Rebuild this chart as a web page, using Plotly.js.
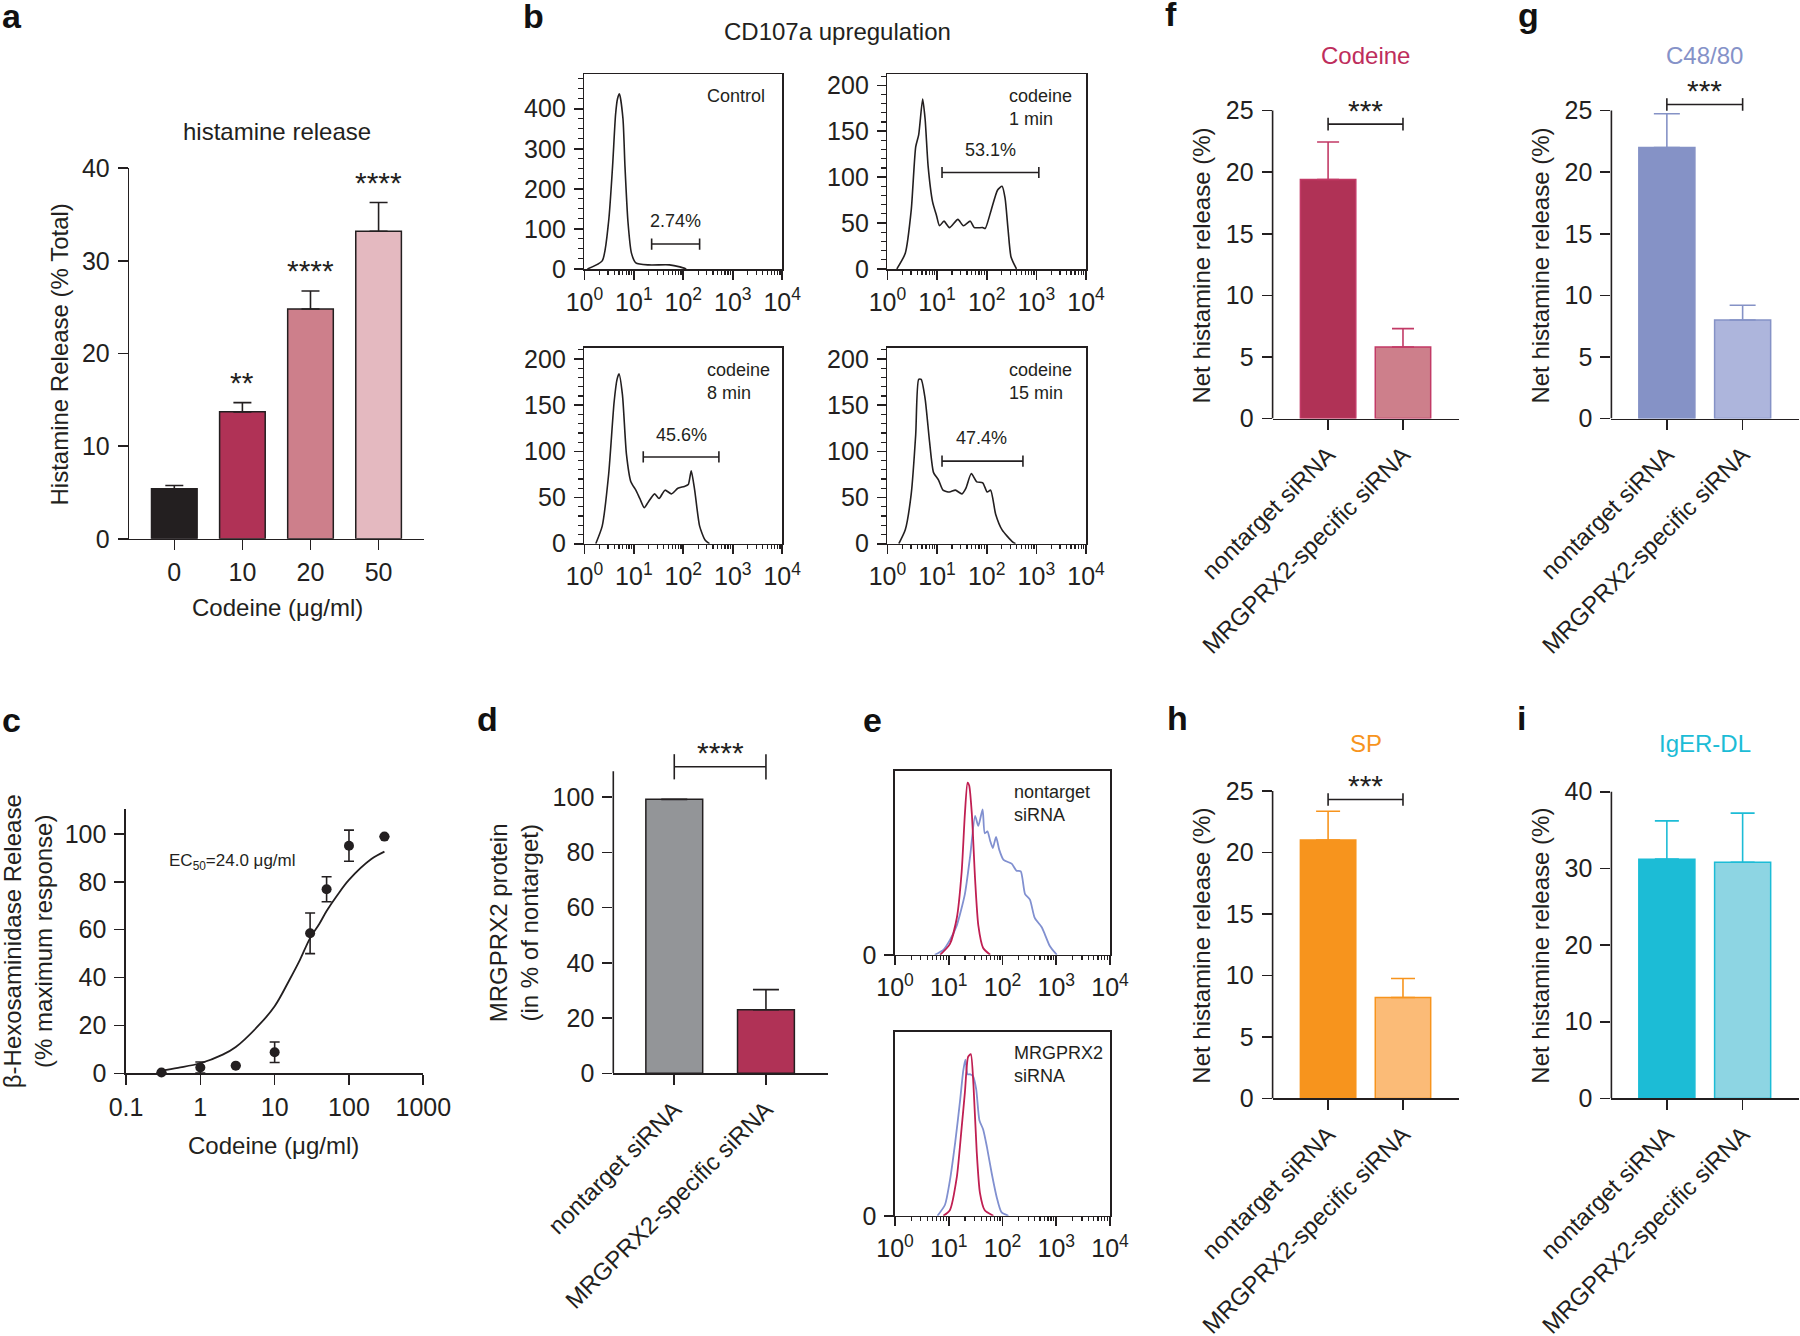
<!DOCTYPE html>
<html><head><meta charset="utf-8">
<script src="https://cdn.plot.ly/plotly-3.0.1.min.js"></script>
<style>html,body{margin:0;padding:0;background:#fff;} #chart{width:1800px;height:1336px;}</style>
</head><body><div id="chart"></div>
<script>
// ---------------- DATA ----------------
// Panel a: histamine release
const aCats = ['0', '10', '20', '50'];
const aVals = [5.4, 13.7, 24.8, 33.2];
const aErr = [0.35, 1.0, 1.95, 3.1];
const aStars = ['', '**', '****', '****'];

// Panel b: CD107a histograms (x in log10 fluorescence, y counts)
const ctrlLogX = [0.06, 0.36, 0.49, 0.57, 0.63, 0.67, 0.71, 0.78, 0.82, 0.88, 0.95, 1.04, 1.30, 1.72, 1.93, 2.06];
const ctrlY    = [0, 20, 119, 257, 385, 425, 437, 375, 257, 119, 40, 15, 10, 10, 5, 0];
const m1LogX = [0.19, 0.36, 0.48, 0.57, 0.63, 0.71, 0.76, 0.82, 0.91, 0.99, 1.05, 1.14, 1.25, 1.42, 1.53, 1.67, 1.75, 1.92, 1.97, 2.09, 2.22, 2.31, 2.37, 2.43, 2.49, 2.60];
const m1Y    = [0, 17, 64, 133, 146, 185, 163, 112, 73, 58, 47, 52, 45, 54, 47, 52, 45, 45, 44, 64, 86, 90, 77, 43, 13, 0];
const m8LogX = [0.23, 0.36, 0.49, 0.60, 0.66, 0.70, 0.77, 0.85, 0.94, 1.04, 1.12, 1.21, 1.29, 1.42, 1.51, 1.63, 1.76, 1.89, 2.02, 2.10, 2.16, 2.23, 2.33, 2.44, 2.53];
const m8Y    = [0, 19, 75, 153, 178, 184, 161, 97, 67, 58, 49, 39, 45, 54, 49, 58, 54, 60, 62, 64, 79, 58, 19, 4, 0];
const m15LogX = [0.23, 0.36, 0.48, 0.57, 0.63, 0.68, 0.76, 0.85, 0.93, 1.03, 1.12, 1.25, 1.37, 1.50, 1.58, 1.69, 1.80, 1.92, 2.01, 2.08, 2.18, 2.31, 2.52, 2.58];
const m15Y    = [0, 15, 54, 118, 178, 178, 157, 110, 77, 69, 58, 56, 58, 54, 60, 76, 67, 66, 56, 58, 32, 15, 2, 0];
const bLabels = ['Control', 'codeine<br>1 min', 'codeine<br>8 min', 'codeine<br>15 min'];
const bPercents = ['2.74%', '53.1%', '45.6%', '47.4%'];
const bGateLogX = [[1.36, 2.33], [1.10, 3.05], [1.19, 2.72], [1.10, 2.73]];
const bGateY = [62, 105, 94, 89.5];
const bPctLogX = [1.85, 2.07, 1.96, 1.90];
const bPctY = [120, 130, 118, 115];
const bYMax = [486, 212, 212, 212];

// Panel c: beta-hexosaminidase dose response
const cX = [0.3, 1, 3, 10, 30, 50, 100, 300];
const cY = [0.3, 2.4, 3.2, 8.8, 58.5, 76.9, 95.1, 98.9];
const cErr = [0, 2.3, 0, 4.3, 8.5, 5.2, 6.5, 0];
const cFitX = [0.3, 0.5, 1, 2, 3, 6.3, 10, 15.8, 21.9, 30, 40, 50, 70, 100, 200, 300];
const cFitY = [1.1, 2.3, 4.2, 7.8, 11, 20.5, 28, 39, 47.4, 56.5, 62.5, 67.8, 74.5, 80.8, 89.5, 92.6];

// siRNA categories
const sCats = ['nontarget siRNA', 'MRGPRX2-specific siRNA'];
// Panel d
const dVals = [99.2, 23.0];
const dErr = [0, 7.3];
const dBracket = 111;
// Panel e: flow histograms (% of max), x in log10
const eTopRedLogX = [0.84, 1.02, 1.15, 1.24, 1.30, 1.35, 1.38, 1.43, 1.49, 1.55, 1.64, 1.77];
const eTopRedY    = [0, 5.8, 20, 45, 76.5, 93.5, 92, 76.5, 41, 16, 3.7, 0];
const eTopBlueLogX = [0.74, 0.90, 1.02, 1.15, 1.30, 1.40, 1.49, 1.55, 1.63, 1.67, 1.72, 1.77, 1.82, 1.88, 1.94, 2.02, 2.17, 2.26, 2.34, 2.42, 2.51, 2.60, 2.73, 2.79, 2.88, 3.01];
const eTopBlueY    = [0, 2.7, 8, 16, 33, 54, 75.5, 70, 79, 66, 67, 62, 58, 64, 57, 51.5, 49.5, 45.7, 45.3, 33, 30, 20, 15, 11, 4.8, 0];
const eBotRedLogX = [0.90, 1.02, 1.15, 1.24, 1.30, 1.36, 1.41, 1.46, 1.52, 1.58, 1.67, 1.83];
const eBotRedY    = [0, 3, 21, 48, 67, 86.5, 88, 71, 35, 12.5, 3, 0];
const eBotBlueLogX = [0.79, 0.93, 1.02, 1.12, 1.21, 1.27, 1.31, 1.35, 1.40, 1.45, 1.51, 1.57, 1.64, 1.71, 1.80, 1.89, 1.98, 2.11];
const eBotBlueY    = [0, 6, 19, 40, 62.5, 79, 85, 77, 77, 76, 69, 52, 47, 37.5, 23, 10.4, 2, 0];
const eLabels = ['nontarget<br>siRNA', 'MRGPRX2<br>siRNA'];
// Panels f-i
const fVals = [19.4, 5.8];  const fErr = [3.05, 1.5];  const fBracket = 23.9;
const gVals = [22.0, 8.0];  const gErr = [2.75, 1.2];  const gBracket = 25.5;
const hVals = [21.0, 8.2];  const hErr = [2.35, 1.55]; const hBracket = 24.3;
const iVals = [31.2, 30.8]; const iErr = [5.0, 6.4];

// ---------------- HELPERS ----------------
const W = 1800, H = 1336;
const FONT = '"Liberation Sans", Arial, Helvetica, sans-serif';
const INK = '#231f20';
const LW = 1.6;
const TF = 25;
const dx = (a, b) => [a / W, b / W];
const dy = (top, bottom) => [1 - bottom / H, 1 - top / H];
const px = x => x / W;
const py = y => 1 - y / H;
const pow10 = arr => arr.map(v => Math.pow(10, v));
const zeros = arr => arr.map(() => 0);

function axis(extra) {
  return Object.assign({
    showgrid: false, zeroline: false, showline: true, linecolor: INK, linewidth: LW,
    ticks: 'outside', ticklen: 10, tickwidth: LW, tickcolor: INK,
    tickfont: {family: FONT, size: TF, color: INK}, fixedrange: true, ticklabelstandoff: 3
  }, extra);
}
const xAxis = extra => axis(Object.assign({ticklabelstandoff: 1}, extra));
const minorLog = [];
for (let d = 0; d < 4; d++) for (let k = 2; k <= 9; k++) minorLog.push(k * Math.pow(10, d));
const decadeVals = [1, 10, 100, 1000, 10000];
const decadeText = ['10<sup>0</sup>', '10<sup>1</sup>', '10<sup>2</sup>', '10<sup>3</sup>', '10<sup>4</sup>'];
function logFlowAxis(domain, anchor) {
  return xAxis({type: 'log', range: [0, 4], domain: domain, anchor: anchor, mirror: true,
    tickmode: 'array', tickvals: decadeVals, ticktext: decadeText, ticklen: 9,
    minor: {tickmode: 'array', tickvals: minorLog, ticks: 'outside', ticklen: 4, tickwidth: 1.2, tickcolor: INK}});
}

const traces = [];
const annotations = [];
const shapes = [];
const layout = {
  width: W, height: H, margin: {l: 0, r: 0, t: 0, b: 0},
  paper_bgcolor: '#fff', plot_bgcolor: 'rgba(0,0,0,0)', showlegend: false,
  font: {family: FONT, size: 24, color: INK}
};
function txt(text, x, y, opts) {
  annotations.push(Object.assign({text: text, x: px(x), y: py(y), xref: 'paper', yref: 'paper',
    xanchor: 'center', yanchor: 'middle',
    showarrow: false, font: {family: FONT, size: 24, color: INK}}, opts || {}));
}

// ---------------- PANEL LETTERS ----------------
[['a', 0, 16], ['b', 521, 16], ['c', 0, 720], ['d', 475, 719], ['e', 861, 720],
 ['f', 1163, 14], ['g', 1516, 15], ['h', 1165, 718], ['i', 1515, 718]].forEach(l =>
  txt('<b>' + l[0] + '</b>', l[1], l[2], {xanchor: 'left', yanchor: 'middle', font: {family: FONT, size: 34, color: '#111'}}));

// ---------------- PANEL A ----------------
traces.push({type: 'bar', x: aCats, y: aVals, xaxis: 'x', yaxis: 'y', width: 0.67,
  marker: {color: ['#231f20', '#b03256', '#cd7f8b', '#e4b9c0'], line: {color: INK, width: 1.5}},
  error_y: {type: 'data', symmetric: false, array: aErr, arrayminus: zeros(aErr), color: INK, thickness: LW, width: 9}});
layout.xaxis = xAxis({domain: dx(129.3, 424), anchor: 'y', type: 'category', range: [-0.661, 3.667]});
layout.yaxis = axis({domain: dy(168.2, 538.8), anchor: 'x', range: [0, 40], tickvals: [0, 10, 20, 30, 40]});
aStars.forEach((s, i) => { if (s) annotations.push({text: s, x: i, y: aVals[i] + aErr[i], xref: 'x', yref: 'y',
  showarrow: false, xanchor: 'center', yanchor: 'middle', yshift: 20, font: {family: FONT, size: 30, color: INK}}); });
txt('histamine release', 277, 131.4);
txt('Histamine Release (% Total)', 58.5, 355, {textangle: -90});
txt('Codeine (\u03bcg/ml)', 277, 607);

// ---------------- PANEL B ----------------
txt('CD107a upregulation', 837.7, 31.6);
const bX = [[584.4, 782.2], [887.4, 1086], [584.4, 782.2], [887.4, 1086]];
const bYd = [[74.3, 268.9], [74.3, 268.9], [348, 543.7], [348, 543.7]];
const bData = [[ctrlLogX, ctrlY], [m1LogX, m1Y], [m8LogX, m8Y], [m15LogX, m15Y]];
bData.forEach((d, k) => {
  const n = k + 2, xa = 'x' + n, ya = 'y' + n;
  traces.push({type: 'scatter', mode: 'lines', x: pow10(d[0]), y: d[1], xaxis: xa, yaxis: ya,
    line: {color: INK, width: LW, shape: 'spline', smoothing: 0.6}, cliponaxis: false});
  traces.push({type: 'scatter', mode: 'lines+markers', x: pow10(bGateLogX[k]), y: [bGateY[k], bGateY[k]], xaxis: xa, yaxis: ya,
    line: {color: INK, width: LW}, marker: {symbol: 'line-ns-open', size: 8, line: {color: INK, width: LW}}});
  layout['xaxis' + n] = logFlowAxis(dx(bX[k][0], bX[k][1]), ya);
  const big = bYMax[k] > 300;
  layout['yaxis' + n] = axis({domain: dy(bYd[k][0], bYd[k][1]), anchor: xa, range: [0, bYMax[k]], mirror: true,
    dtick: big ? 100 : 50, tick0: 0, ticklen: 9,
    minor: {dtick: big ? 25 : 10, tick0: 0, ticks: 'outside', ticklen: 5, tickwidth: 1.2, tickcolor: INK}});
  annotations.push({text: bPercents[k], x: bPctLogX[k], y: bPctY[k], xref: xa, yref: ya, showarrow: false,
    xanchor: 'center', yanchor: 'middle', font: {family: FONT, size: 18, color: INK}});
  annotations.push({text: bLabels[k], x: k % 2 === 0 ? 0.611 : 0.602, y: 0.95, xref: xa + ' domain', yref: ya + ' domain',
    xanchor: 'left', yanchor: 'top', align: 'left', showarrow: false, font: {family: FONT, size: 18, color: INK}});
});

// ---------------- PANEL C ----------------
traces.push({type: 'scatter', mode: 'lines', x: cFitX, y: cFitY, xaxis: 'x6', yaxis: 'y6',
  line: {color: INK, width: 1.8, shape: 'spline'}, cliponaxis: false});
traces.push({type: 'scatter', mode: 'markers', x: cX, y: cY, xaxis: 'x6', yaxis: 'y6', cliponaxis: false,
  marker: {color: INK, size: 10}, error_y: {type: 'data', array: cErr, color: INK, thickness: LW, width: 5}});
layout.xaxis6 = xAxis({type: 'log', range: [-1, 3], domain: dx(126, 423.3), anchor: 'y6',
  tickmode: 'array', tickvals: [0.1, 1, 10, 100, 1000], ticktext: ['0.1', '1', '10', '100', '1000']});
layout.yaxis6 = axis({range: [0, 110.3], domain: dy(809.3, 1073.3), anchor: 'x6', tickvals: [0, 20, 40, 60, 80, 100]});
annotations.push({text: 'EC<sub>50</sub>=24.0 \u03bcg/ml', x: -0.444, y: 88.3, xref: 'x6', yref: 'y6', xanchor: 'left',
  yanchor: 'middle', showarrow: false, font: {family: FONT, size: 17, color: INK}});
txt('\u03b2-Hexosaminidase Release<br>(% maximum response)', 27.5, 941.7, {textangle: -90});
txt('Codeine (\u03bcg/ml)', 273, 1145);

// ---------------- siRNA bar panels helper ----------------
// zeroPx / topPx: pixel rows of value 0 and of the axis-line top (axisTop)
function siPanel(n, vals, errs, colors, edge, errColor, capW, barW, xDom, zeroPx, topPx, axisTop, xr, ytv, bracketY, bracketSize, stars) {
  const xa = 'x' + n, ya = 'y' + n;
  const pxu = (zeroPx - topPx) / axisTop;
  const rangeTop = axisTop * 1.2;
  traces.push({type: 'bar', x: sCats, y: vals, xaxis: xa, yaxis: ya, width: barW,
    marker: {color: colors, line: {color: edge, width: 1.5}},
    error_y: {type: 'data', symmetric: false, array: errs, arrayminus: zeros(errs), color: errColor, thickness: LW, width: capW}});
  layout['xaxis' + n] = xAxis({domain: xDom, anchor: ya, type: 'category', range: xr, tickangle: -45,
    tickfont: {family: FONT, size: 24, color: INK}});
  layout['yaxis' + n] = axis({domain: dy(zeroPx - rangeTop * pxu, zeroPx), anchor: xa, range: [0, rangeTop], tickvals: ytv, showline: false});
  shapes.push({type: 'line', xref: xa + ' domain', yref: ya, x0: 0, x1: 0, y0: 0, y1: axisTop, line: {color: INK, width: LW}});
  if (bracketY !== null) {
    traces.push({type: 'scatter', mode: 'lines+markers', x: sCats, y: [bracketY, bracketY], xaxis: xa, yaxis: ya, cliponaxis: false,
      line: {color: INK, width: LW}, marker: {symbol: 'line-ns-open', size: bracketSize, line: {color: INK, width: LW}}});
    annotations.push({text: stars, x: 0.5, y: bracketY, xref: xa, yref: ya, showarrow: false, xanchor: 'center', yanchor: 'middle', yshift: 14,
      font: {family: FONT, size: 30, color: INK}});
  }
}

// Panel d
siPanel(7, dVals, dErr, ['#939598', '#b03256'], INK, INK, 13, 0.62, dx(613.3, 828.3), 1073.3, 771.2, 109.4,
  [-0.665, 1.68], [0, 20, 40, 60, 80, 100], dBracket, 18, '****');
txt('MRGPRX2 protein<br>(in % of nontarget)', 513.5, 922.7, {textangle: -90});

// ---------------- PANEL E ----------------
const eDom = [[770.7, 954.8], [1032, 1215.8]];
const eData = [[eTopRedLogX, eTopRedY, eTopBlueLogX, eTopBlueY], [eBotRedLogX, eBotRedY, eBotBlueLogX, eBotBlueY]];
eData.forEach((d, k) => {
  const n = 8 + k, xa = 'x' + n, ya = 'y' + n;
  traces.push({type: 'scatter', mode: 'lines', x: pow10(d[2]), y: d[3], xaxis: xa, yaxis: ya,
    line: {color: '#8190d0', width: 1.8, shape: 'spline', smoothing: 0.6}});
  traces.push({type: 'scatter', mode: 'lines', x: pow10(d[0]), y: d[1], xaxis: xa, yaxis: ya,
    line: {color: '#c01f52', width: 1.8, shape: 'spline', smoothing: 0.6}});
  layout['xaxis' + n] = logFlowAxis(dx(895, 1110), ya);
  layout['yaxis' + n] = axis({domain: dy(eDom[k][0], eDom[k][1]), anchor: xa, range: [0, 100], mirror: true,
    tickvals: [0], ticktext: ['0'], ticklen: 9});
  annotations.push({text: eLabels[k], x: 0.543, y: 0.95, xref: xa + ' domain', yref: ya + ' domain',
    xanchor: 'left', yanchor: 'top', align: 'left', showarrow: false, font: {family: FONT, size: 18, color: INK}});
});

// ---------------- PANELS F-I ----------------
const xF = dx(1272.6, 1459), xG = dx(1611.4, 1798.7);
siPanel(10, fVals, fErr, ['#b03256', '#cd7f8b'], '#c23a66', '#c23a66', 11, 0.74, xF, 418.5, 110.6, 25, [-0.741, 1.748],
  [0, 5, 10, 15, 20, 25], fBracket, 9, '***');
siPanel(11, gVals, gErr, ['#8592c6', '#adb5dc'], '#8592c6', '#8592c6', 13, 0.74, xG, 418.5, 110.6, 25, [-0.732, 1.74],
  [0, 5, 10, 15, 20, 25], gBracket, 9, '***');
siPanel(12, hVals, hErr, ['#f7941d', '#fbbb77'], '#f7941d', '#f7941d', 12, 0.74, xF, 1098.4, 790.9, 25, [-0.741, 1.748],
  [0, 5, 10, 15, 20, 25], hBracket, 9, '***');
siPanel(13, iVals, iErr, ['#1cbcd6', '#8dd5e3'], '#1cbcd6', '#1cbcd6', 12, 0.74, xG, 1098.4, 791.7, 40, [-0.732, 1.74],
  [0, 10, 20, 30, 40], null, 0, '');
txt('Codeine', 1365.2, 55.5, {font: {family: FONT, size: 24, color: '#be2d5c'}});
txt('C48/80', 1704, 55.5, {font: {family: FONT, size: 24, color: '#8592c8'}});
txt('SP', 1366, 743.6, {font: {family: FONT, size: 24, color: '#f7941d'}});
txt('IgER-DL', 1705.2, 743.6, {font: {family: FONT, size: 24, color: '#1cbcd6'}});
[[1202, 265.6], [1541, 265.6], [1202, 945.7], [1541, 945.7]].forEach(p =>
  txt('Net histamine release (%)', p[0], p[1], {textangle: -90}));

layout.annotations = annotations;
layout.shapes = shapes;
Plotly.newPlot('chart', traces, layout, {staticPlot: true, displayModeBar: false});
</script></body></html>
